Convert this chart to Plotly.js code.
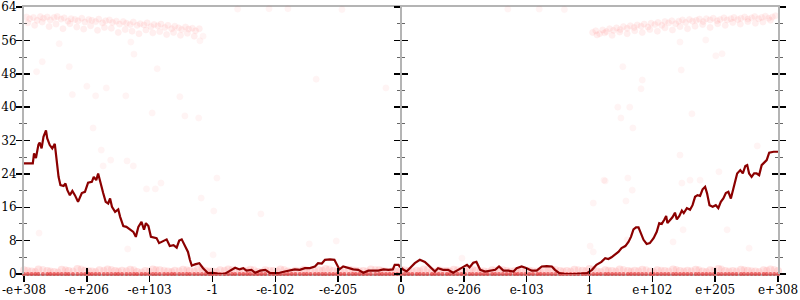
<!DOCTYPE html>
<html>
<head>
<meta charset="utf-8">
<script src="https://cdn.plot.ly/plotly-3.0.1.min.js"></script>
<style>html,body{margin:0;padding:0;background:#fff}#chart{width:800px;height:300px}</style>
</head>
<body>
<div id="chart"></div>
<script>
// ---- tick labels ----
const tickVals = [-6,-5,-4,-3,-2,-1,0,1,2,3,4,5,6];
const tickText = ["-e+308","-e+206","-e+103","-1","-e-102","-e-205","0","e-206","e-103","1","e+102","e+205","e+308"];

// ---- running line ----
const lineX = [-6.0,-5.86,-5.84,-5.81,-5.77,-5.75,-5.72,-5.69,-5.65,-5.63,-5.59,-5.55,-5.51,-5.48,-5.45,-5.42,-5.37,-5.34,-5.31,-5.27,-5.23,-5.19,-5.14,-5.08,-5.03,-4.98,-4.92,-4.89,-4.85,-4.82,-4.79,-4.74,-4.70,-4.66,-4.63,-4.60,-4.55,-4.50,-4.47,-4.42,-4.37,-4.31,-4.26,-4.22,-4.18,-4.13,-4.09,-4.06,-4.02,-3.98,-3.94,-3.89,-3.85,-3.81,-3.73,-3.68,-3.62,-3.57,-3.53,-3.49,-3.44,-3.39,-3.36,-3.33,-3.28,-3.21,-3.15,-3.07,-2.99,-2.88,-2.80,-2.72,-2.64,-2.57,-2.51,-2.46,-2.38,-2.32,-2.24,-2.16,-2.08,-2.01,-1.93,-1.85,-1.77,-1.69,-1.61,-1.53,-1.45,-1.37,-1.32,-1.26,-1.21,-1.13,-1.06,-1.02,-0.98,-0.92,-0.84,-0.76,-0.68,-0.60,-0.52,-0.44,-0.36,-0.28,-0.20,-0.13,-0.10,-0.04,-0.02,0.04,0.09,0.14,0.22,0.30,0.38,0.43,0.49,0.54,0.59,0.67,0.75,0.83,0.91,0.99,1.05,1.09,1.15,1.20,1.26,1.34,1.42,1.50,1.56,1.63,1.71,1.79,1.84,1.92,2.00,2.08,2.16,2.24,2.32,2.40,2.45,2.52,2.61,2.77,2.96,3.04,3.11,3.19,3.25,3.30,3.35,3.41,3.46,3.51,3.57,3.62,3.66,3.70,3.74,3.78,3.82,3.86,3.91,3.96,4.02,4.07,4.11,4.15,4.19,4.22,4.24,4.28,4.32,4.36,4.39,4.43,4.47,4.50,4.55,4.60,4.64,4.68,4.72,4.76,4.80,4.84,4.87,4.91,4.96,5.01,5.05,5.09,5.13,5.17,5.21,5.25,5.28,5.32,5.35,5.40,5.44,5.48,5.51,5.54,5.58,5.62,5.66,5.70,5.74,5.78,5.82,5.86,5.93,6.0];
const lineY = [26.5,26.5,28.9,27.8,31.0,31.5,30.1,32.9,34.4,32.5,30.9,30.1,31.2,26.5,23.3,21.3,21.1,21.7,20.1,18.9,19.9,18.9,17.3,19.4,19.7,21.9,22.1,23.3,22.5,24.1,22.1,19.4,17.3,16.9,18.1,16.1,14.9,15.5,13.7,11.5,11.3,10.6,10.1,8.9,11.3,12.5,10.6,12.2,11.5,8.9,8.8,8.6,7.4,7.7,8.3,6.7,6.9,6.3,8.0,8.3,6.9,5.3,3.4,2.0,2.3,2.6,1.4,0.2,0.3,0.0,0.1,0.8,1.5,1.1,1.4,0.8,1.0,0.3,0.8,1.0,0.2,0.2,0.3,0.6,0.8,1.1,1.0,1.4,1.4,1.8,2.6,2.5,3.4,3.5,3.4,2.2,1.1,1.8,1.4,1.1,1.0,0.3,0.8,0.8,0.8,1.1,1.0,1.1,2.2,2.2,1.8,1.0,0.6,1.4,2.6,3.4,2.9,2.2,1.4,0.6,1.4,1.0,1.0,0.3,1.0,1.8,2.2,1.6,2.7,2.9,1.0,0.6,0.8,1.0,1.8,0.8,0.8,0.6,1.4,1.8,1.4,0.8,0.8,1.8,1.9,1.8,1.0,0.2,0.0,0.0,0.2,1.0,2.2,2.9,3.8,3.6,4.0,4.6,5.3,6.2,6.7,7.7,8.9,10.7,11.2,11.2,9.8,8.2,7.2,7.4,8.6,10.1,12.2,12.0,13.0,13.9,12.2,12.8,13.6,14.7,13.1,13.9,15.2,14.6,15.8,15.4,16.5,18.5,18.9,18.7,20.3,20.9,19.4,16.5,16.1,16.5,15.8,17.3,18.1,19.4,19.7,18.1,19.7,22.5,24.1,24.9,24.1,25.9,26.1,24.1,23.3,24.1,24.1,23.7,26.1,26.7,27.3,29.1,29.3,29.3];

// ---- scattered samples: upper-left band ----
const topLeftX = [-5.96,-5.91,-5.85,-5.79,-5.74,-5.69,-5.63,-5.58,-5.52,-5.47,-5.41,-5.36,-5.3,-5.25,-5.19,-5.14,-5.08,-5.03,-4.97,-4.92,-4.86,-4.81,-4.75,-4.7,-4.64,-4.59,-4.53,-4.48,-4.42,-4.37,-4.31,-4.26,-4.2,-4.15,-4.09,-4.04,-3.98,-3.93,-3.87,-3.82,-3.76,-3.71,-3.65,-3.6,-3.54,-3.49,-3.43,-3.38,-3.32,-3.27,-3.21,-5.94,-5.83,-5.71,-5.6,-5.49,-5.38,-5.27,-5.16,-5.05,-4.94,-4.83,-4.72,-4.61,-4.5,-4.39,-4.28,-4.17,-4.06,-3.95,-3.84,-3.73,-3.62,-3.51,-3.4,-3.29];
const topLeftY = [61.6,61.2,61.5,60.8,61.7,61.3,61.6,60.9,61.5,61.7,61.1,61.4,60.6,61.2,61.0,60.7,61.3,60.4,61.0,60.8,60.5,61.1,60.2,60.7,60.9,60.3,60.6,59.9,60.5,60.1,59.8,60.4,59.6,60.0,59.7,60.2,59.3,59.8,59.5,59.9,59.1,59.6,58.8,59.4,59.0,58.6,59.2,58.7,58.9,58.3,58.8,60.2,59.6,60.4,59.3,59.9,58.8,60.0,59.2,58.7,59.5,58.4,59.1,58.9,57.9,58.6,58.2,57.6,58.5,57.8,58.1,57.4,57.9,57.2,57.7,57.0];

// ---- scattered samples: upper-right band ----
const topRightX = [3.05,3.1,3.16,3.21,3.27,3.32,3.38,3.43,3.49,3.54,3.6,3.65,3.71,3.76,3.82,3.87,3.93,3.98,4.04,4.09,4.15,4.2,4.26,4.31,4.37,4.42,4.48,4.53,4.59,4.64,4.7,4.75,4.81,4.86,4.92,4.97,5.03,5.08,5.14,5.19,5.25,5.3,5.36,5.41,5.47,5.52,5.58,5.63,5.69,5.74,5.8,5.85,5.91,5.96,3.12,3.24,3.36,3.48,3.6,3.72,3.84,3.96,4.08,4.2,4.32,4.44,4.56,4.68,4.8,4.92,5.04,5.16,5.28,5.4,5.52,5.64,5.76,5.88];
const topRightY = [57.9,58.3,57.6,58.5,58.1,58.8,58.4,59.0,58.6,59.3,58.9,59.5,59.1,59.7,59.4,59.9,59.2,60.1,59.8,60.3,59.6,60.5,60.2,60.7,60.0,60.6,60.9,60.3,61.0,60.6,60.8,61.1,60.5,61.2,60.9,61.3,60.7,61.0,61.4,60.9,61.2,61.5,61.0,61.3,61.6,61.1,61.4,61.7,61.2,61.5,61.8,61.3,61.6,61.9,57.3,57.8,57.2,58.0,57.6,58.3,57.9,58.6,58.2,59.0,58.5,59.3,58.8,59.4,59.8,59.1,60.0,59.6,60.3,59.9,60.5,60.1,60.4,60.8];

// ---- scattered samples: sparse ----
const sparseX = [-5.8,-5.71,-5.28,-5.23,-5.0,-4.86,-4.69,-4.38,-3.88,-3.52,-4.25,-4.3,-5.44,-4.9,-4.62,-4.74,-4.36,-4.26,-3.96,-4.05,-3.91,-3.44,-3.22,-5.76,-4.35,-2.99,-2.93,-3.18,-3.82,-4.77,-2.98,-2.23,-1.46,-1.03,-3.15,-3.2,-1.35,-0.24,-0.94,3.45,3.64,3.5,3.69,4.63,4.44,4.47,5.67,5.06,4.76,3.25,3.68,4.6,3.53,3.82,4.46,5.01,5.11,3.84,4.44,4.85,3.23,3.06,3.61,0.97,3.01,3.06,3.6,4.49,4.33,5.19,5.54,3.58,-2.6,-2.1,2.2,2.6,-1.8,1.7];
const sparseY = [48.5,50.9,49.7,43.0,45.0,42.7,44.6,42.7,49.2,42.5,52.7,55.6,55.2,35.0,27.3,25.9,27.1,25.9,38.6,20.4,20.4,37.9,37.4,9.8,6.0,4.6,23.0,18.2,21.8,29.7,15.1,14.4,7.2,7.9,57.0,55.9,46.7,44.6,63.4,40.0,40.0,37.4,35.0,38.4,28.5,21.8,30.7,24.5,22.5,22.3,20.1,22.5,49.7,44.4,48.9,52.3,52.8,46.5,55.6,56.1,22.5,17.0,23.0,3.8,6.7,5.3,8.2,10.6,7.7,10.6,6.2,17.5,63.5,63.6,63.5,63.4,63.6,63.5];

// ---- scattered samples: bottom band ----
const bandX = [-6.0,-5.88,-5.77,-5.63,-5.52,-5.4,-5.29,-5.15,-5.03,-4.92,-4.8,-4.67,-4.55,-4.44,-4.31,-4.2,-4.07,-3.95,-3.84,-3.71,-3.6,-3.47,-3.36,-3.23,-3.11,-3.0,-2.88,-2.75,-2.64,-2.51,-2.4,-2.28,-2.16,-2.03,-1.92,-1.8,-1.68,-1.55,-1.44,-1.31,-1.2,-1.08,-0.96,-0.83,-0.72,-0.6,-0.48,-0.35,-0.24,-0.12,0.0,0.12,0.25,0.36,0.49,0.6,0.73,0.84,0.96,1.09,1.2,1.32,1.45,1.56,1.68,1.81,1.92,2.04,2.17,2.28,2.4,2.53,2.64,2.76,2.89,3.0,3.12,3.25,3.36,3.48,3.61,3.72,3.84,3.97,4.08,4.2,4.33,4.44,4.56,4.69,4.8,4.92,5.05,5.16,5.28,5.41,5.52,5.64,5.77,5.88,6.0];
const bandX2 = [-5.94,-5.82,-5.7,-5.58,-5.46,-5.34,-5.22,-5.09,-4.97,-4.86,-4.73,-4.61,-4.5,-4.37,-4.25,-4.13,-4.01,-3.9,-3.77,-3.65,-3.53,-3.41,-3.29,-3.17,-3.05,-2.94,-2.81,-2.69,-2.57,-2.45,-2.34,-2.22,-2.09,-1.97,-1.86,-1.74,-1.61,-1.5,-1.37,-1.25,-1.14,-1.02,-0.9,-0.77,-0.66,-0.54,-0.41,-0.3,-0.18,-0.06,0.06,0.18,0.3,0.42,0.54,0.66,0.78,0.9,1.02,1.14,1.26,1.38,1.5,1.62,1.74,1.86,1.98,2.1,2.22,2.34,2.46,2.58,2.7,2.82,2.94,3.06,3.18,3.3,3.42,3.54,3.66,3.78,3.9,4.02,4.14,4.26,4.38,4.5,4.62,4.74,4.86,4.98,5.1,5.22,5.34,5.46,5.58,5.7,5.82,5.94];
const bandLowY = [0,0,0,0,0,0,0,0,0,0,0,0,0,0,0,0,0,0,0,0,0,0,0,0,0,0,0,0,0,0,0,0,0,0,0,0,0,0,0,0,0,0,0,0,0,0,0,0,0,0,0,0,0,0,0,0,0,0,0,0,0,0,0,0,0,0,0,0,0,0,0,0,0,0,0,0,0,0,0,0,0,0,0,0,0,0,0,0,0,0,0,0,0,0,0,0,0,0,0,0,0];
const bandLowY2 = [0,0,0,0,0,0,0,0,0,0,0,0,0,0,0,0,0,0,0,0,0,0,0,0,0,0,0,0,0,0,0,0,0,0,0,0,0,0,0,0,0,0,0,0,0,0,0,0,0,0,0,0,0,0,0,0,0,0,0,0,0,0,0,0,0,0,0,0,0,0,0,0,0,0,0,0,0,0,0,0,0,0,0,0,0,0,0,0,0,0,0,0,0,0,0,0,0,0,0,0];
const bandHighY = [0.9,0.6,1.1,0.7,0.5,1.0,0.7,1.2,0.8,0.6,0.9,1.1,0.7,0.8,1.0,0.5,0.7,1.1,0.9,0.6,0.8,1.0,0.7,1.2,0.7,0.6,0.9,1.1,0.7,0.8,1.0,0.5,0.9,0.7,1.1,0.6,0.8,1.0,0.7,0.9,1.2,0.7,0.6,1.0,0.8,0.7,1.1,0.9,0.6,0.7,1.0,0.7,0.8,1.1,0.6,0.9,0.7,1.0,0.7,1.2,0.8,0.6,0.9,1.1,0.7,0.7,1.0,0.8,0.6,0.9,1.1,0.7,0.7,1.0,0.8,1.2,0.6,0.9,0.7,1.1,0.7,0.8,1.0,0.6,0.9,0.7,1.1,0.7,0.8,1.0,0.6,0.9,1.2,0.7,0.7,1.0,0.8,0.6,0.9,1.1,0.7];

const dotMarker = (op) => ({color: 'rgb(255,70,70)', size: 6, opacity: op, line: {width: 0.6, color: 'rgb(255,20,20)'}});

const traces = [
  {x: sparseX, y: sparseY, type: 'scatter', mode: 'markers', marker: dotMarker(0.05), cliponaxis: false, hoverinfo: 'skip'},
  {x: topLeftX, y: topLeftY, type: 'scatter', mode: 'markers', marker: dotMarker(0.08), cliponaxis: false, hoverinfo: 'skip'},
  {x: topRightX, y: topRightY, type: 'scatter', mode: 'markers', marker: dotMarker(0.08), cliponaxis: false, hoverinfo: 'skip'},
  {x: bandX, y: bandHighY, type: 'scatter', mode: 'markers', marker: {color: 'rgb(255,90,90)', size: 8, opacity: 0.17}, cliponaxis: false, hoverinfo: 'skip'},
  {x: bandX2, y: bandHighY, type: 'scatter', mode: 'markers', marker: {color: 'rgb(255,90,90)', size: 7, opacity: 0.13}, cliponaxis: false, hoverinfo: 'skip'},
  {x: bandX, y: bandLowY, type: 'scatter', mode: 'markers', marker: {color: 'rgb(225,25,25)', size: 4, opacity: 0.6}, cliponaxis: false, hoverinfo: 'skip'},
  {x: bandX2, y: bandLowY2, type: 'scatter', mode: 'markers', marker: {color: 'rgb(225,25,25)', size: 4, opacity: 0.6}, cliponaxis: false, hoverinfo: 'skip'},
  {x: lineX, y: lineY, type: 'scatter', mode: 'lines', line: {color: '#8b0000', width: 2.2}, hoverinfo: 'skip'},
  // empty helpers so the extra axes are drawn
  {x: [null], y: [null], xaxis: 'x2', yaxis: 'y', type: 'scatter', mode: 'markers', showlegend: false},
  {x: [null], y: [null], xaxis: 'x', yaxis: 'y2', type: 'scatter', mode: 'markers', showlegend: false},
  {x: [null], y: [null], xaxis: 'x', yaxis: 'y3', type: 'scatter', mode: 'markers', showlegend: false},
  {x: [null], y: [null], xaxis: 'x', yaxis: 'y4', type: 'scatter', mode: 'markers', showlegend: false}
];

const tickFont = {family: 'DejaVu Serif', size: 12, color: '#000'};
const lineCol = '#b4b4b4';
const minorOut = {tickmode: 'linear', tick0: 0, dtick: 4, ticklen: 3, tickwidth: 1, tickcolor: '#666', ticks: 'outside'};
const minorIn = Object.assign({}, minorOut, {ticks: 'inside'});
const yBase = {range: [0, 64], tickmode: 'linear', tick0: 0, dtick: 8, ticklen: 6, tickwidth: 1.5, tickcolor: '#000',
  showgrid: false, zeroline: false, fixedrange: true};

const layout = {
  width: 800, height: 300,
  margin: {l: 24, r: 22, t: 7, b: 26, pad: 0},
  paper_bgcolor: '#fff', plot_bgcolor: '#fff',
  showlegend: false,
  xaxis: {range: [-6, 6], tickmode: 'array', tickvals: tickVals, ticktext: tickText, tickfont: tickFont,
    ticks: 'outside', ticklen: 6, tickwidth: 1.5, tickcolor: '#000', ticklabelstandoff: -2, layer: 'below traces',
    showline: true, linecolor: lineCol, linewidth: 2, mirror: true, showgrid: false, zeroline: false},
  xaxis2: {overlaying: 'x', anchor: 'y', side: 'bottom', range: [-6, 6], tickmode: 'array', tickvals: tickVals,
    ticks: 'inside', ticklen: 6, tickwidth: 1.5, tickcolor: '#000', showticklabels: false,
    showline: false, showgrid: false, zeroline: false},
  yaxis: Object.assign({}, yBase, {ticks: 'outside', mirror: 'ticks', showline: true, linecolor: lineCol, linewidth: 2,
    showticklabels: true, tickfont: tickFont, ticklabelstandoff: -3, minor: minorOut}),
  yaxis2: Object.assign({}, yBase, {overlaying: 'y', anchor: 'x', ticks: 'inside', mirror: 'ticks', showline: false,
    showticklabels: false, minor: minorIn}),
  yaxis3: Object.assign({}, yBase, {overlaying: 'y', anchor: 'free', position: 0.5, side: 'left', ticks: 'outside',
    showline: true, linecolor: lineCol, linewidth: 2, showticklabels: false, minor: minorOut}),
  yaxis4: Object.assign({}, yBase, {overlaying: 'y', anchor: 'free', position: 0.5, side: 'left', ticks: 'inside',
    showline: false, showticklabels: false, minor: minorIn})
};

Plotly.newPlot('chart', traces, layout, {staticPlot: true, displayModeBar: false});
</script>
</body>
</html>
